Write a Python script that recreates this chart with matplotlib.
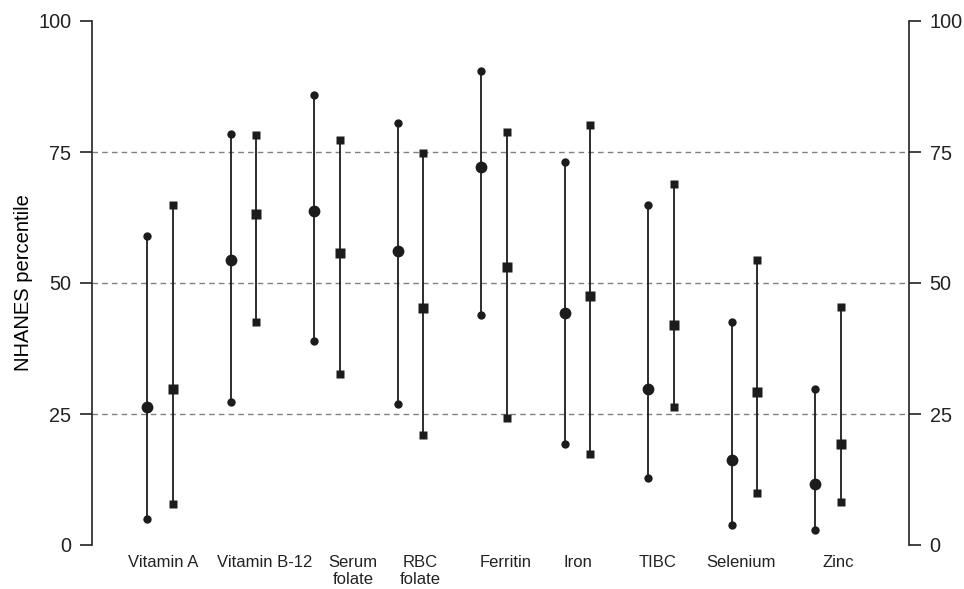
import matplotlib
matplotlib.use("Agg")
import matplotlib.pyplot as plt
import matplotlib.transforms as mtransforms
import numpy as np

plt.rcParams['font.family'] = ['Liberation Sans', 'DejaVu Sans']

categories = ["Vitamin A", "Vitamin B-12", "Serum\nfolate", "RBC\nfolate",
              "Ferritin", "Iron", "TIBC", "Selenium", "Zinc"]

# circle series (first of each pair)
circ_low = [5.0, 27.2, 39.0, 26.9, 43.9, 19.3, 12.8, 3.9, 2.9]
circ_med = [26.3, 54.3, 63.7, 56.2, 72.1, 44.2, 29.8, 16.2, 11.6]
circ_high = [59.0, 78.4, 85.9, 80.5, 90.5, 73.1, 64.9, 42.5, 29.8]

# square series (second of each pair)
sq_low = [7.8, 42.6, 32.6, 21.0, 24.2, 17.4, 26.3, 10.0, 8.3]
sq_med = [29.8, 63.2, 55.7, 45.3, 53.0, 47.6, 41.9, 29.2, 19.3]
sq_high = [64.9, 78.2, 77.2, 74.9, 78.8, 80.2, 68.8, 54.3, 45.4]

yticks = [0, 25, 50, 75, 100]

fig = plt.figure(figsize=(9.64, 5.89), dpi=100)
ax = fig.add_axes([92/964, 44/589, (909-92)/964, (545-21)/589])

x = np.arange(len(categories))
off = 0.155
col = "#1c1c1c"

for xs, lo, md, hi, mk, ms_small, ms_big in [
        (x - off, circ_low, circ_med, circ_high, 'o', 6.0, 8.5),
        (x + off, sq_low, sq_med, sq_high, 's', 5.6, 7.8)]:
    ax.vlines(xs, lo, hi, color=col, lw=1.3, zorder=2)
    ax.plot(xs, lo, mk, color=col, ms=ms_small, mec='none', zorder=3)
    ax.plot(xs, hi, mk, color=col, ms=ms_small, mec='none', zorder=3)
    ax.plot(xs, md, mk, color=col, ms=ms_big, mec='none', zorder=3)

for yv in [25, 50, 75]:
    ax.axhline(yv, color="#808080", lw=1.0, ls=(0, (4, 3)), zorder=1)

ax.set_xlim(-0.814, 8.97)
ax.set_ylim(0, 100)
ax.set_yticks(yticks)
ax.set_yticklabels([str(v) for v in yticks])
ax.tick_params(axis='y', which='both', direction='out', length=8.3, width=1.2,
               labelsize=14.3, pad=6.5, left=True, right=True,
               labelleft=True, labelright=True, colors="#222222")
ax.set_xticks([])
for s in ['top', 'bottom']:
    ax.spines[s].set_visible(False)
for s in ['left', 'right']:
    ax.spines[s].set_linewidth(1.2)
    ax.spines[s].set_color("#222222")

ax.set_ylabel("NHANES percentile", fontsize=14.5)
ax.yaxis.set_label_coords(-0.072, 0.5)

label_shift = [0.04, 0.26, 0.31, 0.12, 0.14, 0.0, -0.04, -0.04, 0.12]
trans = mtransforms.blended_transform_factory(ax.transData, ax.transAxes)
for i, (c, sh) in enumerate(zip(categories, label_shift)):
    ax.annotate(c, xy=(i + sh, 0), xycoords=trans, xytext=(0, -7.5),
                textcoords='offset points', ha='center', va='top',
                fontsize=12, linespacing=1.15, color="#222222",
                annotation_clip=False)

fig.savefig("out.png", dpi=100)
